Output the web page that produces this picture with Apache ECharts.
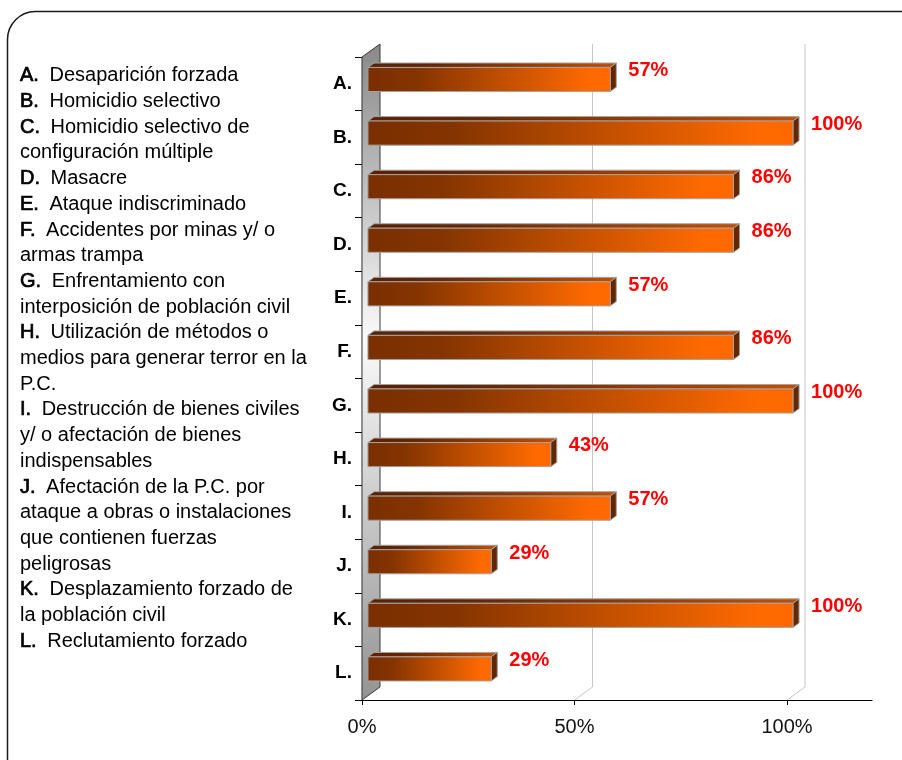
<!DOCTYPE html>
<html>
<head>
<meta charset="utf-8">
<script src="https://cdn.jsdelivr.net/npm/echarts@6/dist/echarts.min.js"></script>
<style>
  html, body { margin: 0; padding: 0; background: #ffffff; }
  #chart { width: 902px; height: 760px; }
</style>
</head>
<body>
<div id="chart"></div>
<script>
// Category codes shown on the vertical axis
const categories = ['A.', 'B.', 'C.', 'D.', 'E.', 'F.', 'G.', 'H.', 'I.', 'J.', 'K.', 'L.'];

// Share of cases (%) for each category
const values = [57, 100, 86, 86, 57, 86, 100, 43, 57, 29, 100, 29];

// Description of each code, already broken into the lines of the key
const descriptions = [
  ['Desaparición forzada'],
  ['Homicidio selectivo'],
  ['Homicidio selectivo de', 'configuración múltiple'],
  ['Masacre'],
  ['Ataque indiscriminado'],
  ['Accidentes por minas y/ o', 'armas trampa'],
  ['Enfrentamiento con', 'interposición de población civil'],
  ['Utilización de métodos o', 'medios para generar terror en la', 'P.C.'],
  ['Destrucción de bienes civiles', 'y/ o afectación de bienes', 'indispensables'],
  ['Afectación de la P.C. por', 'ataque a obras o instalaciones', 'que contienen fuerzas', 'peligrosas'],
  ['Desplazamiento forzado de', 'la población civil'],
  ['Reclutamiento forzado']
];

// Value axis ticks and extent
const xTickValues = [0, 50, 100];
const xMin = 0;
const xMax = 120;

const FONT = '"Liberation Sans", Arial, Helvetica, sans-serif';
// Depth of the 3D frame (back plane offset from the front plane, px)
const DEPTH = [18, -13];
// Bars sit between these depth fractions
const BAR_FRONT = 0.33, BAR_BACK = 0.67;
const BAR_THICK = 0.45;

// Key text: emphasised code followed by its description
const keyText = descriptions.map(function (lines, i) {
  return '{k|' + categories[i] + '}' + lines.map(function (l, j) {
    return j === 0 ? ' ' + l : l;
  }).join('\n');
}).join('\n');

function renderFrame(params, api) {
  const cs = params.coordSys;
  const x0 = cs.x, y0 = cs.y, yb = cs.y + cs.height;
  const dx = DEPTH[0], dy = DEPTH[1];
  const children = [];
  // side wall
  children.push({
    type: 'polygon',
    shape: { points: [[x0, y0], [x0 + dx, y0 + dy], [x0 + dx, yb + dy], [x0, yb]] },
    style: {
      fill: new echarts.graphic.LinearGradient(0, 0, 0, 1, [
        { offset: 0, color: '#888888' },
        { offset: 0.45, color: '#fafafa' },
        { offset: 1, color: '#939393' }
      ]),
      stroke: '#3a3a3a',
      lineWidth: 1
    },
    z2: 1
  });
  // gridlines on the back plane, folding down to the front at the floor
  xTickValues.forEach(function (v) {
    if (v === xMin) return;
    const xf = api.coord([v, 0])[0];
    children.push({
      type: 'polyline',
      shape: { points: [[xf + dx, y0 + dy], [xf + dx, yb + dy], [xf, yb]] },
      style: { stroke: '#c6c6c6', lineWidth: 1, fill: null },
      z2: 0
    });
  });
  return { type: 'group', children: children };
}

function renderBar(params, api) {
  const idx = api.value(1);
  const v = api.value(0);
  const start = api.coord([0, idx]);
  const end = api.coord([v, idx]);
  const band = api.size([0, 1])[1];
  const h = band * BAR_THICK;
  const fx = DEPTH[0] * BAR_FRONT, fy = DEPTH[1] * BAR_FRONT;
  const bx = DEPTH[0] * (BAR_BACK - BAR_FRONT), by = DEPTH[1] * (BAR_BACK - BAR_FRONT);
  const xl = start[0] + fx, xr = end[0] + fx;
  const yt = start[1] + fy - h / 2, ybm = yt + h;
  const edge = '#a3a3a3';
  return {
    type: 'group',
    children: [
      {
        type: 'polygon',
        shape: { points: [[xl, yt], [xr, yt], [xr + bx, yt + by], [xl + bx, yt + by]] },
        style: {
          fill: new echarts.graphic.LinearGradient(0, 0, 1, 0, [
            { offset: 0, color: '#5a2000' },
            { offset: 0.25, color: '#652600' },
            { offset: 1, color: '#c44f00' }
          ]),
          stroke: edge, lineWidth: 1
        }
      },
      {
        type: 'polygon',
        shape: { points: [[xr, yt], [xr + bx, yt + by], [xr + bx, ybm + by], [xr, ybm]] },
        style: { fill: '#652700', stroke: edge, lineWidth: 1 }
      },
      {
        type: 'rect',
        shape: { x: xl, y: yt, width: xr - xl, height: h },
        style: {
          fill: new echarts.graphic.LinearGradient(0, 0, 1, 0, [
            { offset: 0, color: '#7a2f00' },
            { offset: 0.2, color: '#843400' },
            { offset: 0.92, color: '#ff6a00' },
            { offset: 1, color: '#ff6800' }
          ]),
          stroke: edge, lineWidth: 1
        }
      },
      {
        type: 'text',
        style: {
          text: v + '%',
          x: xr + bx + 12,
          y: start[1] - 13,
          verticalAlign: 'middle',
          align: 'left',
          fill: '#ff0000',
          font: 'bold 20px ' + FONT
        }
      }
    ]
  };
}

const chart = echarts.init(document.getElementById('chart'), null, { renderer: 'canvas' });

chart.setOption({
  backgroundColor: '#ffffff',
  animation: false,
  grid: { left: 362, top: 57, width: 510, height: 643, containLabel: false, outerBoundsMode: 'none' },
  xAxis: {
    type: 'value',
    min: xMin,
    max: xMax,
    interval: 50,
    axisLine: { show: true, lineStyle: { color: '#000000', width: 1.2 } },
    axisTick: { show: true, length: 5, customValues: xTickValues, lineStyle: { color: '#000000' } },
    axisLabel: {
      customValues: xTickValues,
      formatter: '{value}%',
      fontFamily: FONT,
      fontSize: 20,
      color: '#111111',
      margin: 17
    },
    splitLine: { show: false }
  },
  yAxis: {
    type: 'category',
    data: categories,
    inverse: true,
    axisLine: { show: true, lineStyle: { color: '#000000', width: 1.2 } },
    axisTick: { show: true, length: 7, lineStyle: { color: '#000000' } },
    axisLabel: { fontFamily: FONT, fontSize: 19, fontWeight: 'bold', color: '#000000', margin: 10 },
    splitLine: { show: false }
  },
  graphic: [
    {
      type: 'rect',
      shape: { x: 7.5, y: 11.5, width: 920, height: 790, r: 28 },
      style: { fill: null, stroke: '#1a1a1a', lineWidth: 1.5 },
      silent: true,
      z: -1
    },
    {
      type: 'text',
      x: 20,
      y: 63,
      style: {
        text: keyText,
        font: '20px ' + FONT,
        fill: '#000000',
        lineHeight: 25.7,
        rich: {
          k: {
            font: '20px ' + FONT,
            fill: '#000000',
            stroke: '#000000',
            lineWidth: 0.7,
            padding: [0, 5, 0, 0],
            lineHeight: 25.7
          }
        }
      },
      silent: true
    }
  ],
  series: [
    {
      type: 'custom',
      name: 'frame',
      clip: false,
      silent: true,
      z: 1,
      data: [[0, 0]],
      renderItem: renderFrame
    },
    {
      type: 'custom',
      name: 'bars',
      clip: false,
      z: 3,
      data: values.map(function (v, i) { return [v, i]; }),
      encode: { x: 0, y: 1 },
      renderItem: renderBar
    }
  ]
});
</script>
</body>
</html>
